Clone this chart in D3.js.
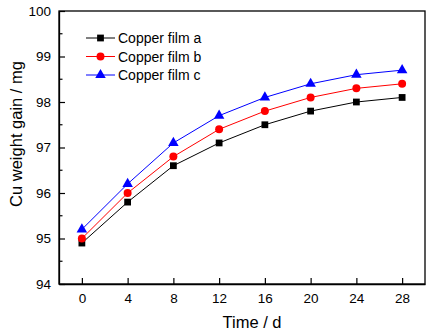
<!DOCTYPE html>
<html>
<head>
<meta charset="utf-8">
<script src="https://cdn.jsdelivr.net/npm/d3@7"></script>
<style>
  html, body { margin: 0; padding: 0; background: #fff; }
  svg { display: block; font-family: Arial, "Liberation Sans", sans-serif; }
</style>
</head>
<body>
<svg id="chart" width="431" height="335"></svg>
<script>
// Immersion time (days) and copper weight gain (mg) for three films
const days = [0, 4, 8, 12, 16, 20, 24, 28];
const filmA = [94.9, 95.8, 96.6, 97.1, 97.5, 97.8, 98.0, 98.1];
const filmB = [95.0, 96.0, 96.8, 97.4, 97.8, 98.1, 98.3, 98.4];
const filmC = [95.2, 96.2, 97.1, 97.7, 98.1, 98.4, 98.6, 98.7];
const seriesNames = ["Copper film a", "Copper film b", "Copper film c"];
const xTicks = [0, 4, 8, 12, 16, 20, 24, 28];
const yTicks = [94, 95, 96, 97, 98, 99, 100];

const series = [
  { name: seriesNames[0], values: filmA, color: "#000000", shape: d3.symbolSquare, size: 46 },
  { name: seriesNames[1], values: filmB, color: "#ff0000", shape: d3.symbolCircle, size: 50 },
  { name: seriesNames[2], values: filmC, color: "#0000ff", shape: d3.symbolTriangle, size: 48 }
];

const svg = d3.select("#chart");
const plotLeft = 59, plotRight = 425, plotTop = 11, plotBottom = 284;

const x = d3.scaleLinear().domain([-2, 30]).range([plotLeft, plotRight]);
const y = d3.scaleLinear().domain([94, 100]).range([plotBottom, plotTop]);

// Frame around the plot area
svg.append("rect")
  .attr("x", plotLeft).attr("y", plotTop)
  .attr("width", plotRight - plotLeft).attr("height", plotBottom - plotTop)
  .attr("fill", "none").attr("stroke", "#000").attr("stroke-width", 1.3);

// Bottom axis: ticks point inward
const xAxis = d3.axisBottom(x).tickValues(xTicks).tickFormat(d3.format("d"))
  .tickSizeInner(-6).tickSizeOuter(0).tickPadding(9);
const gx = svg.append("g").attr("transform", `translate(0,${plotBottom})`).call(xAxis);
gx.select(".domain").attr("stroke-width", 1.3);
gx.selectAll(".tick line").attr("stroke-width", 1.2);
gx.selectAll(".tick text").attr("font-size", 13.5).attr("fill", "#000");

// Left axis with inward major ticks
const yAxis = d3.axisLeft(y).tickValues(yTicks).tickFormat(d3.format("d"))
  .tickSizeInner(-6).tickSizeOuter(0).tickPadding(8);
const gy = svg.append("g").attr("transform", `translate(${plotLeft},0)`).call(yAxis);
gy.select(".domain").attr("stroke-width", 1.3);
gy.selectAll(".tick line").attr("stroke-width", 1.2);
gy.selectAll(".tick text").attr("font-size", 13.5).attr("fill", "#000");

// Minor ticks at half units
const minor = d3.range(94.5, 100, 1);
svg.append("g").selectAll("line").data(minor).join("line")
  .attr("x1", plotLeft).attr("x2", plotLeft + 3.5)
  .attr("y1", d => y(d)).attr("y2", d => y(d))
  .attr("stroke", "#000").attr("stroke-width", 1.2);

// Axis titles
svg.append("text")
  .attr("x", 252).attr("y", 328)
  .attr("text-anchor", "middle").attr("font-size", 16.5)
  .text("Time / d");

svg.append("text")
  .attr("transform", "translate(22,134) rotate(-90)")
  .attr("text-anchor", "middle").attr("font-size", 16.5)
  .text("Cu weight gain / mg");

// Lines and markers
const line = d3.line().x((d, i) => x(days[i])).y(d => y(d));
series.forEach(s => {
  svg.append("path")
    .attr("d", line(s.values))
    .attr("fill", "none").attr("stroke", s.color).attr("stroke-width", 1);
  svg.append("g").selectAll("path").data(s.values).join("path")
    .attr("transform", (d, i) => `translate(${x(days[i])},${y(d)})`)
    .attr("d", d3.symbol().type(s.shape).size(s.size))
    .attr("fill", s.color);
});

// Legend
const legend = svg.append("g");
series.forEach((s, i) => {
  const ly = 38 + i * 18.5;
  legend.append("line")
    .attr("x1", 86).attr("x2", 115).attr("y1", ly).attr("y2", ly)
    .attr("stroke", s.color).attr("stroke-width", 1);
  legend.append("path")
    .attr("transform", `translate(100.5,${ly})`)
    .attr("d", d3.symbol().type(s.shape).size(s.size))
    .attr("fill", s.color);
  legend.append("text")
    .attr("x", 118).attr("y", ly).attr("dy", "0.36em")
    .attr("font-size", 14).text(s.name);
});
</script>
</body>
</html>
